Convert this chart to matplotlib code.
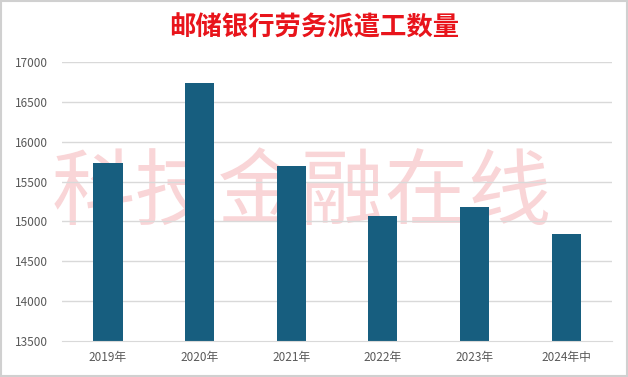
import matplotlib.pyplot as plt
from matplotlib.patches import Rectangle

plt.rcParams['font.family'] = ['Noto Sans CJK SC', 'DejaVu Sans']

years = ['2019年', '2020年', '2021年', '2022年', '2023年', '2024年中']
staff = [15737, 16738, 15700, 15066, 15183, 14841]
yticks = [13500, 14000, 14500, 15000, 15500, 16000, 16500, 17000]

fig = plt.figure(figsize=(6.28, 3.77), dpi=100)
ax = fig.add_axes([62 / 628, 1 - 341 / 377, 550 / 628, 279 / 377])

# watermark at the back, grid over it, bars on top
ax.text(0.48, 0.485, '科技金融在线', fontsize=60, fontweight='light', color='#f9d5d7',
        ha='center', va='center', zorder=0, transform=fig.transFigure, clip_on=False)
for t in yticks[1:]:
    ax.axhline(t, color='#d9d9d9', lw=1, zorder=1)

x = range(len(years))
ax.bar(x, staff, width=0.32, color='#175e7f', zorder=2)

ax.set_xlim(-0.5, len(years) - 0.5)
ax.set_ylim(13500, 17000)
ax.set_yticks(yticks)
ax.set_yticklabels([str(t) for t in yticks], fontsize=8.5, color='#595959')
ax.set_xticks(list(x))
ax.set_xticklabels(years, fontsize=8.5, color='#595959')
ax.tick_params(length=0, axis='both')
ax.tick_params(axis='y', pad=10)
ax.tick_params(axis='x', pad=7)
for s in ['top', 'right', 'left']:
    ax.spines[s].set_visible(False)
ax.spines['bottom'].set_color('#d9d9d9')
ax.patch.set_alpha(0)

fig.text(0.5, 1 - 28 / 377, '邮储银行劳务派遣工数量', fontsize=19, fontweight='bold',
         color='#e8141b', ha='center', va='center')

fig.patches.append(Rectangle((0.002, 0.003), 0.996, 0.994, transform=fig.transFigure,
                             fill=False, edgecolor='#d0d0d0', lw=1.5))

fig.savefig('out.png', dpi=100)
